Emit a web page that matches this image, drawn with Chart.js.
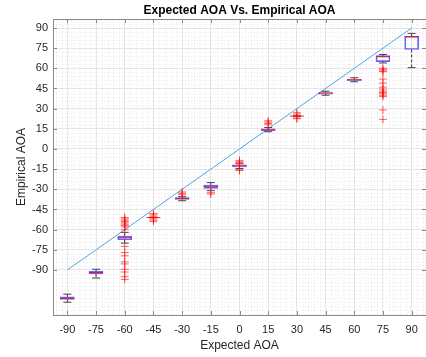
<!DOCTYPE html>
<html>
<head>
<meta charset="utf-8">
<title>Expected AOA Vs. Empirical AOA</title>
<script src="https://cdn.jsdelivr.net/npm/chart.js@4/dist/chart.umd.min.js"></script>
<style>
  html, body { margin: 0; padding: 0; background: #fff; }
  #wrap { width: 426px; height: 357px; }
</style>
</head>
<body>
<div id="wrap"><canvas id="aoaChart" width="426" height="357"></canvas></div>
<script>
// expected angles (one box per angle)
const angles = [-90, -75, -60, -45, -30, -15, 0, 15, 30, 45, 60, 75, 90];

// box stats
const q1 = [-112, -93, -67.5, -51, -37.5, -29.3, -13.3, 13.6, 24.5, 40.8, 50.8, 65, 74];
const medians = [-111, -92, -66, -51, -36.8, -28, -12.5, 14.3, 24.5, 41.5, 51.5, 68.6, 83.5];
const q3 = [-110, -91, -64.8, -51, -36.2, -26.8, -11.8, 15, 24.5, 42, 52, 69.4, 84];
const whiskerLow = [-114, -96, -70, -51, -38.5, -31, -14.5, 12.8, 24.5, 40, 50, 64, 60.5];
const whiskerHigh = [-108, -89.5, -62, -51, -35.5, -25, -11, 16, 24.5, 43, 53, 70.3, 86];

// outliers per angle
const outliers = [
  [],
  [],
  [-51, -52, -53, -54, -55, -56, -57, -58, -60, -72.5, -77, -79.5, -84, -85.5, -89.5, -91.5, -95, -97],
  [-48, -49, -50, -52, -53, -54],
  [-32, -33, -34],
  [-32.5, -33.5],
  [-8.5, -9.5, -10, -15.5, -16],
  [18, 19, 20, 21],
  [22.5, 23, 26, 27],
  [],
  [],
  [60, 59, 58, 57.5, 52, 49, 46, 44.5, 43, 42, 41, 40, 39, 29, 22],
  []
];

// ideal line y = x
const idealX = [-90, 90];

const majorTicks = [-90, -75, -60, -45, -30, -15, 0, 15, 30, 45, 60, 75, 90];
const FONT = "'Liberation Sans', Arial, Helvetica, sans-serif";

document.addEventListener("DOMContentLoaded", function () {
  const boxData = angles.map((a, i) => ({ x: a, y: [q1[i], q3[i]] }));
  const medianData = angles.map((a, i) => ({ x: a, y: medians[i] }));
  const capData = [];
  const whiskerData = [];
  angles.forEach((a, i) => {
    capData.push({ x: a, y: whiskerLow[i] }, { x: a, y: whiskerHigh[i] });
    whiskerData.push({ x: a, y: q3[i] }, { x: a, y: whiskerHigh[i] }, { x: a, y: null });
    whiskerData.push({ x: a, y: q1[i] }, { x: a, y: whiskerLow[i] }, { x: a, y: null });
  });
  const outlierData = [];
  angles.forEach((a, i) => outlierData.push(...outliers[i].map((v) => ({ x: a, y: v }))));

  // minor dotted grid, frame, inward ticks, title
  const matlabAxes = {
    id: "matlabAxes",
    beforeDatasetsDraw(chart) {
      const { ctx, chartArea: ca, scales: { x, y } } = chart;
      ctx.save();
      ctx.strokeStyle = "rgba(0,0,0,0.08)";
      ctx.lineWidth = 1;
      ctx.setLineDash([1, 2]);
      for (let v = -96; v <= 96; v += 3) {
        if (v % 15 === 0) continue;
        const px = Math.round(x.getPixelForValue(v)) + 0.5;
        ctx.beginPath(); ctx.moveTo(px, ca.top); ctx.lineTo(px, ca.bottom); ctx.stroke();
      }
      for (let v = -123; v <= 96; v += 3) {
        if (v % 15 === 0 && v >= -90) continue;
        const py = Math.round(y.getPixelForValue(v)) + 0.5;
        ctx.beginPath(); ctx.moveTo(ca.left, py); ctx.lineTo(ca.right, py); ctx.stroke();
      }
      ctx.restore();
    },
    afterDraw(chart) {
      const { ctx, chartArea: ca, scales: { x, y } } = chart;
      ctx.save();
      ctx.strokeStyle = "#8a8a8a";
      ctx.lineWidth = 1;
      ctx.strokeRect(ca.left + 0.5, ca.top + 0.5, ca.right - ca.left, ca.bottom - ca.top);
      ctx.beginPath();
      majorTicks.forEach((v) => {
        const px = Math.round(x.getPixelForValue(v)) + 0.5;
        ctx.moveTo(px, ca.bottom); ctx.lineTo(px, ca.bottom - 4);
        ctx.moveTo(px, ca.top); ctx.lineTo(px, ca.top + 4);
        const py = Math.round(y.getPixelForValue(v)) + 0.5;
        ctx.moveTo(ca.left, py); ctx.lineTo(ca.left + 4, py);
        ctx.moveTo(ca.right, py); ctx.lineTo(ca.right - 4, py);
      });
      ctx.stroke();
      ctx.fillStyle = "#000";
      ctx.font = "bold 12px " + FONT;
      ctx.textAlign = "center";
      ctx.textBaseline = "middle";
      ctx.fillText("Expected AOA Vs. Empirical AOA", (ca.left + ca.right) / 2, 11);
      ctx.restore();
    },
  };

  const ctx = document.getElementById("aoaChart").getContext("2d");
  new Chart(ctx, {
    type: "scatter",
    data: {
      datasets: [
        {
          type: "line",
          label: "Ideal",
          data: idealX.map((v) => ({ x: v, y: v })),
          borderColor: "#4ea4dd",
          borderWidth: 1,
          pointRadius: 0,
          order: 6,
        },
        {
          type: "line",
          label: "Whiskers",
          data: whiskerData,
          borderColor: "#333",
          borderWidth: 1,
          borderDash: [3, 2],
          pointRadius: 0,
          spanGaps: false,
          order: 5,
        },
        {
          label: "Caps",
          data: capData,
          pointStyle: "line",
          pointRadius: 4,
          borderColor: "#444",
          borderWidth: 1,
          order: 4,
        },
        {
          type: "bar",
          label: "Box",
          data: boxData,
          barThickness: 14,
          backgroundColor: "rgba(255,255,255,0)",
          borderColor: "rgba(40,40,255,0.7)",
          borderWidth: 1,
          borderSkipped: false,
          order: 3,
        },
        {
          label: "Outliers",
          data: outlierData,
          pointStyle: "cross",
          pointRadius: 4,
          borderColor: "rgba(255,0,0,0.6)",
          borderWidth: 1,
          order: 2,
        },
        {
          label: "Median",
          data: medianData,
          pointStyle: "line",
          pointRadius: 7,
          borderColor: "rgba(255,0,0,0.85)",
          borderWidth: 1,
          order: 1,
        },
      ],
    },
    plugins: [matlabAxes],
    options: {
      responsive: false,
      animation: false,
      layout: { autoPadding: false, padding: { top: 19, right: 0, left: 0, bottom: 0 } },
      plugins: {
        legend: { display: false },
        tooltip: { enabled: false },
      },
      scales: {
        x: {
          type: "linear",
          min: -97.5,
          max: 97.5,
          offset: false,
          afterBuildTicks: (scale) => { scale.ticks = majorTicks.map((v) => ({ value: v })); },
          afterFit: (scale) => { scale.height = 42; scale.paddingLeft = 0; scale.paddingRight = 0; },
          grid: { color: "#e6e6e6", drawTicks: false, offset: false },
          border: { display: false },
          ticks: { color: "#262626", font: { family: FONT, size: 11 }, padding: 8, maxRotation: 0, autoSkip: false },
          title: { display: true, text: "Expected AOA", color: "#262626", font: { family: FONT, size: 12 }, padding: { top: 0, bottom: 4 } },
        },
        y: {
          type: "linear",
          min: -123.5,
          max: 96.7,
          afterBuildTicks: (scale) => { scale.ticks = majorTicks.map((v) => ({ value: v })); },
          afterFit: (scale) => { scale.width = 53; },
          grid: { color: "#e6e6e6", drawTicks: false },
          border: { display: false },
          ticks: { color: "#262626", font: { family: FONT, size: 11 }, padding: 5, autoSkip: false },
          title: { display: true, text: "Empirical AOA", color: "#262626", font: { family: FONT, size: 12 }, padding: { top: 14, bottom: 0 } },
        },
      },
    },
  });
});
</script>
</body>
</html>
